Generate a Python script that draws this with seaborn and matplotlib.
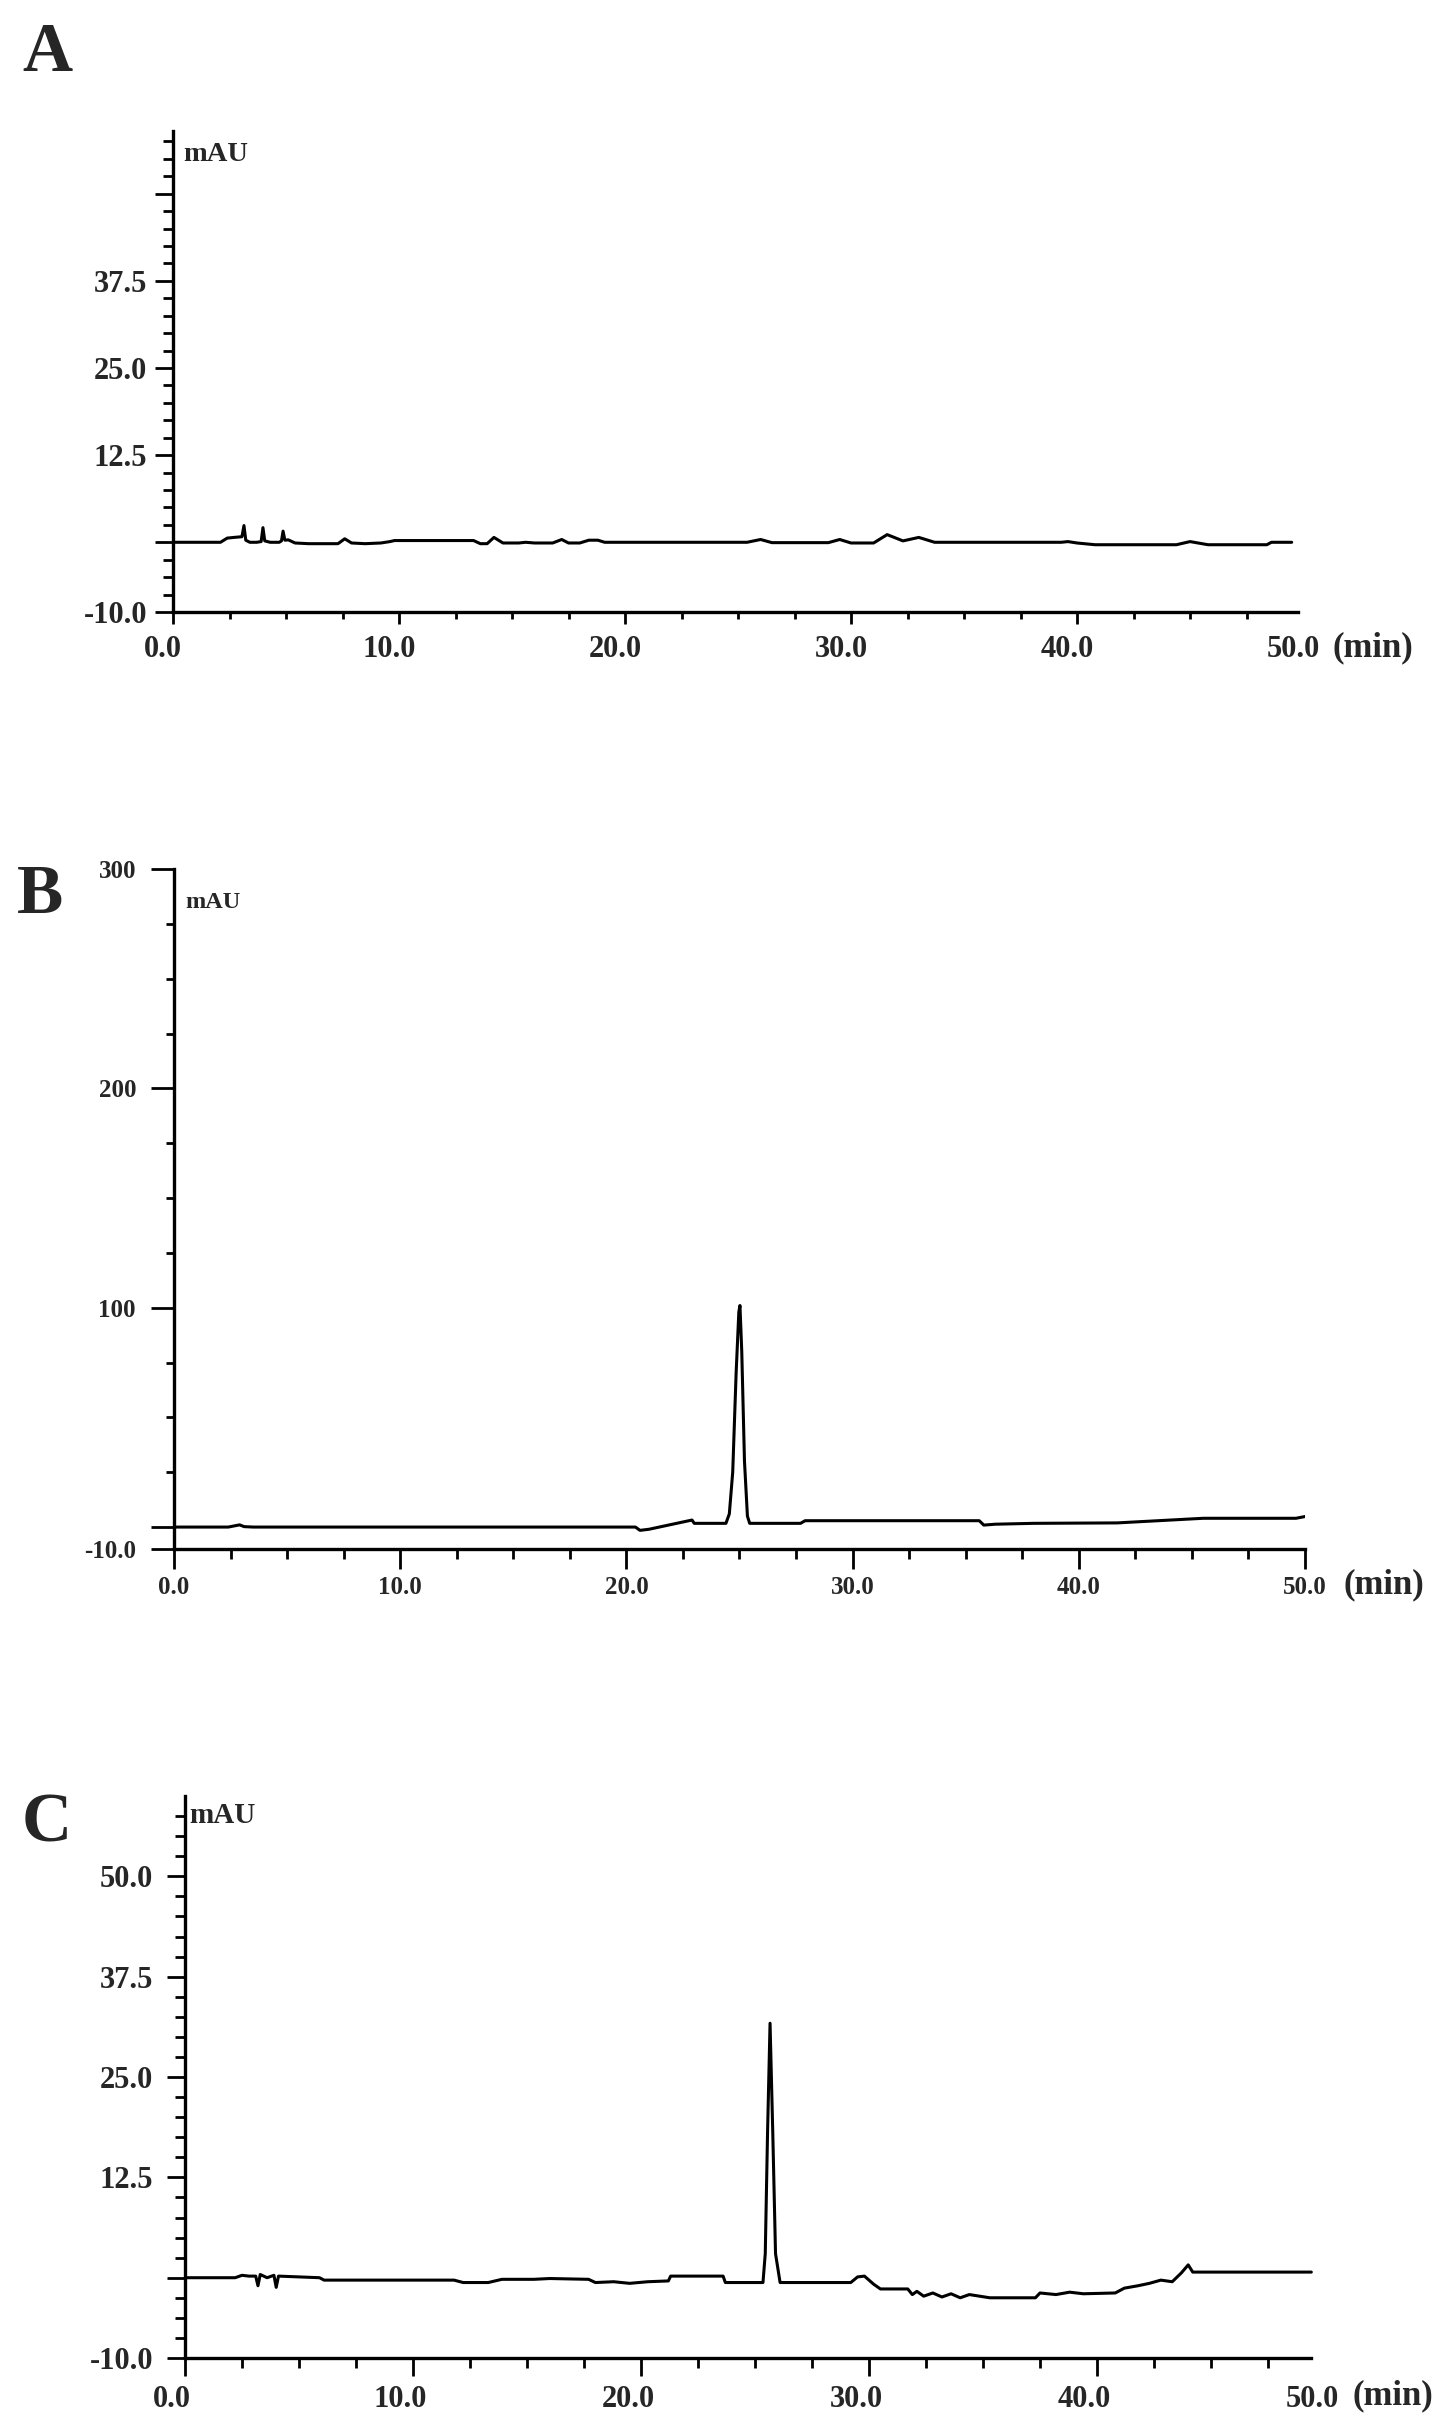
import matplotlib
matplotlib.use("Agg")
import matplotlib.pyplot as plt
import matplotlib.transforms as mtransforms
import numpy as np
import pandas as pd
import seaborn as sns

# 크로마토그램 데이터 (그림에서 읽은 값, 시간 min / 신호 mAU)
time_a = [0.0, 2.1, 2.4, 2.7, 3.05, 3.14, 3.22, 3.4, 3.7, 3.9, 3.98, 4.06, 4.3, 4.7,
          4.8, 4.87, 4.95, 5.1, 5.4, 6.0, 7.3, 7.6, 7.9, 8.5, 9.2, 9.6, 9.8, 13.3,
          13.6, 13.9, 14.2, 14.6, 15.3, 15.6, 16.0, 16.8, 17.2, 17.5, 18.0, 18.4,
          18.8, 19.1, 25.4, 26.0, 26.5, 29.0, 29.5, 30.0, 31.0, 31.6, 32.3, 33.0,
          33.7, 39.3, 39.6, 40.0, 40.8, 44.4, 45.0, 45.8, 48.4, 48.6, 49.5]
mau_a = [0.0, 0.0, 0.6, 0.7, 0.8, 2.4, 0.3, 0.0, 0.0, 0.1, 2.1, 0.2, 0.0, 0.0,
         0.2, 1.6, 0.3, 0.35, -0.1, -0.2, -0.2, 0.5, -0.1, -0.2, -0.1, 0.1, 0.25, 0.25,
         -0.2, -0.2, 0.7, -0.1, -0.1, 0.0, -0.1, -0.1, 0.4, -0.1, -0.1, 0.3,
         0.3, 0.0, 0.0, 0.4, -0.05, -0.05, 0.4, -0.1, -0.1, 1.1, 0.2, 0.7,
         0.0, 0.0, 0.1, -0.1, -0.35, -0.35, 0.1, -0.35, -0.35, 0.0, 0.0]

time_b = [0.0, 2.4, 2.7, 2.9, 3.1, 3.5, 20.4, 20.6, 21.0, 22.9, 23.0, 24.4, 24.55,
          24.7, 24.85, 24.97, 25.02, 25.1, 25.22, 25.35, 25.45, 27.7, 27.9, 35.6,
          35.8, 36.3, 38.0, 41.7, 45.5, 49.6, 50.0]
mau_b = [0.0, 0.0, 0.6, 1.0, 0.2, 0.0, 0.0, -1.5, -1.0, 3.2, 1.7, 1.7, 6.0,
         25.0, 70.0, 98.0, 101.0, 80.0, 30.0, 5.0, 1.7, 1.7, 2.9, 2.9,
         0.9, 1.3, 1.7, 1.9, 4.0, 4.0, 4.8]

time_c = [0.0, 2.2, 2.5, 2.8, 3.1, 3.2, 3.3, 3.6, 3.9, 4.0, 4.1, 5.9, 6.1, 11.8,
          12.2, 13.3, 13.9, 15.3, 16.0, 17.7, 18.0, 18.8, 19.5, 20.3, 21.2, 21.3,
          23.6, 23.7, 25.35, 25.45, 25.55, 25.66, 25.78, 25.9, 26.1, 29.2, 29.5,
          29.8, 30.2, 30.5, 31.7, 31.9, 32.1, 32.4, 32.8, 33.2, 33.6, 34.0, 34.4,
          35.3, 37.3, 37.5, 38.2, 38.8, 39.4, 40.8, 41.2, 41.8, 42.3, 42.8, 43.3,
          43.7, 44.0, 44.2, 49.4]
mau_c = [0.0, 0.0, 0.3, 0.2, 0.2, -1.0, 0.4, 0.0, 0.3, -1.2, 0.2, 0.0, -0.3, -0.3,
         -0.6, -0.6, -0.2, -0.2, -0.1, -0.2, -0.6, -0.5, -0.7, -0.5, -0.4, 0.2,
         0.2, -0.6, -0.6, 3.0, 18.0, 31.7, 18.0, 3.0, -0.6, -0.6, 0.1,
         0.2, -0.8, -1.4, -1.4, -2.1, -1.7, -2.3, -1.9, -2.4, -2.0, -2.5, -2.1,
         -2.5, -2.5, -1.9, -2.1, -1.8, -2.0, -1.9, -1.3, -1.0, -0.7, -0.3, -0.5,
         0.6, 1.6, 0.7, 0.7]

# 축 눈금
x_major = [0, 10, 20, 30, 40, 50]
x_labels = ["0.0", "10.0", "20.0", "30.0", "40.0", "50.0"]
y_major_ac = [-10, 0, 12.5, 25, 37.5, 50]
y_labels_a = ["-10.0", "", "12.5", "25.0", "37.5", ""]
y_labels_c = ["-10.0", "", "12.5", "25.0", "37.5", "50.0"]
y_major_b = [-10, 0, 100, 200, 300]
y_labels_b = ["-10.0", "", "100", "200", "300"]

W, H = 1441, 2420
DPI = 100

sns.set_style("white")
plt.rcParams['font.family'] = ['Liberation Serif', 'DejaVu Serif']
plt.rcParams['font.weight'] = 'bold'


def px(v):
    """픽셀 -> 포인트"""
    return v * 72.0 / DPI


def draw_panel(fig, rect, t, v, ylim, xend, y_major, y_labels, y_minor,
               fs, xtick, ytick, label_shift, hide_last_xtick, mau_pos, min_pos):
    left, top, right, bottom = rect
    ax = fig.add_axes([left / W, 1 - bottom / H, (right - left) / W, (bottom - top) / H])

    df = pd.DataFrame({'time': t, 'mAU': v})
    sns.lineplot(data=df, x='time', y='mAU', color='black', linewidth=2.2,
                 estimator=None, sort=False, ax=ax)

    ax.set_xlim(0, 50)
    ax.set_ylim(*ylim)
    ax.set_xlabel('')
    ax.set_ylabel('')

    for s in ['top', 'right']:
        ax.spines[s].set_visible(False)
    for s in ['left', 'bottom']:
        ax.spines[s].set_linewidth(2.4)
        ax.spines[s].set_color('black')
    ax.spines['bottom'].set_bounds(0, xend)

    ax.set_xticks(x_major)
    ax.set_xticklabels(x_labels, fontsize=fs, fontweight='bold')
    ax.set_xticks([m for m in np.arange(2.5, 50, 2.5) if m % 10 != 0], minor=True)
    ax.set_yticks(y_major)
    ax.set_yticklabels(y_labels, fontsize=fs, fontweight='bold')
    ax.set_yticks(y_minor, minor=True)

    ax.tick_params(axis='x', which='major', direction='out', length=px(xtick[0]),
                   width=2.0, pad=px(xtick[2]), color='black', bottom=True)
    ax.tick_params(axis='x', which='minor', direction='out', length=px(xtick[1]),
                   width=2.0, color='black', bottom=True)
    ax.tick_params(axis='y', which='major', direction='out', length=px(ytick[0]),
                   width=2.0, pad=px(ytick[2]), color='black', left=True)
    ax.tick_params(axis='y', which='minor', direction='out', length=px(ytick[1]),
                   width=2.0, color='black', left=True)

    if hide_last_xtick:
        ax.xaxis.get_major_ticks()[-1].tick1line.set_visible(False)

    if label_shift:
        off = mtransforms.ScaledTranslation(label_shift / DPI, 0, fig.dpi_scale_trans)
        for lbl in ax.get_xticklabels():
            lbl.set_transform(lbl.get_transform() + off)

    ax.text(mau_pos[0], mau_pos[1], 'mAU', fontsize=mau_pos[2], fontweight='bold',
            ha='left', va='center')
    ax.text(min_pos[0], min_pos[1], '(min)', fontsize=25, fontweight='bold',
            ha='left', va='center', clip_on=False)
    return ax


fig = plt.figure(figsize=(W / DPI, H / DPI), dpi=DPI)

minor_ac = [m for m in np.arange(-7.5, 60, 2.5) if m not in y_major_ac]
minor_b = [m for m in np.arange(25, 300, 25) if m not in y_major_b]

# A
draw_panel(fig, (173, 131, 1303, 612), time_a, mau_a, (-10, 59), 49.8,
           y_major_ac, y_labels_a, minor_ac, 22,
           xtick=(12, 7, 11), ytick=(18, 10, 8), label_shift=-10,
           hide_last_xtick=True, mau_pos=(0.45, 55.7, 20.5), min_pos=(51.3, -15.1))
# B
draw_panel(fig, (174, 869, 1305, 1549), time_b, mau_b, (-10, 300), 50,
           y_major_b, y_labels_b, minor_b, 18,
           xtick=(20, 10, 7), ytick=(23, 8, 15), label_shift=0,
           hide_last_xtick=False, mau_pos=(0.5, 284.5, 17.5), min_pos=(51.7, -26.4))
# C
draw_panel(fig, (185, 1796, 1325, 2358), time_c, mau_c, (-10, 60), 49.4,
           y_major_ac, y_labels_c, minor_ac, 22,
           xtick=(18, 10, 9), ytick=(18, 10, 14), label_shift=-13,
           hide_last_xtick=True, mau_pos=(0.2, 57.6, 21), min_pos=(51.2, -14.7))

# 패널 문자
for letter, x, y in [('A', 22, 22), ('B', 17, 864), ('C', 22, 1792)]:
    fig.text(x / W, 1 - y / H, letter, fontsize=50, fontweight='bold',
             ha='left', va='top')

fig.savefig('out.png', dpi=DPI, facecolor='white')
